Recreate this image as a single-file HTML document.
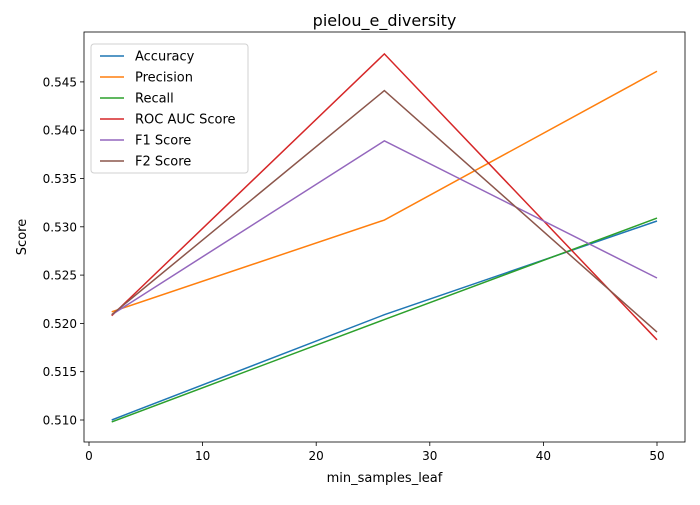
<!DOCTYPE html>
<html><head><meta charset="utf-8"><style>
body{margin:0;background:#fff;}
svg text{font-family:"DejaVu Sans","Liberation Sans",sans-serif;fill:#000;}
</style></head><body>
<svg id="chart" width="700" height="500" xmlns="http://www.w3.org/2000/svg">
<rect width="700" height="500" fill="#fff"/>
<text x="384.5" y="26" font-size="16" text-anchor="middle">pielou_e_diversity</text>
<g id="plot"></g>
</svg>
<script>
const xValues = [2, 26, 50];
const seriesNames = ["Accuracy","Precision","Recall","ROC AUC Score","F1 Score","F2 Score"];
const accuracy = [0.5100, 0.5209, 0.5306];
const precision = [0.5212, 0.5307, 0.5461];
const recall = [0.5098, 0.5204, 0.5309];
const rocAuc = [0.5208, 0.5479, 0.5183];
const f1 = [0.5209, 0.5389, 0.5247];
const f2 = [0.5209, 0.5441, 0.5191];
const xTicks = [0, 10, 20, 30, 40, 50];
const yTicks = [0.510, 0.515, 0.520, 0.525, 0.530, 0.535, 0.540, 0.545];

const colors = ["#1f77b4","#ff7f0e","#2ca02c","#d62728","#9467bd","#8c564b"];
const series = [accuracy, precision, recall, rocAuc, f1, f2];
const L=84,T=32,R=685,B=442;
const xs = v => 89 + v*11.36;
const ys = v => 420 - (v-0.510)*9660;
const NS="http://www.w3.org/2000/svg";
const g=document.getElementById('plot');
function mk(tag,attrs,parent){const e=document.createElementNS(NS,tag);for(const k in attrs)e.setAttribute(k,attrs[k]);(parent||g).appendChild(e);return e;}

xTicks.forEach(t=>{
  const x=xs(t);
  const tk=mk('line',{x1:x,x2:x,y1:B,y2:B+4,stroke:'#000','stroke-width':0.8});
  
  
  const tx=mk('text',{x:x,y:B+18,'font-size':12,'text-anchor':'middle'});
  tx.textContent=t;
  
  
});
yTicks.forEach(t=>{
  const y=ys(t);
  const tk=mk('line',{x1:L-4,x2:L,y1:y,y2:y,stroke:'#000','stroke-width':0.8});
  
  
  const tx=mk('text',{x:L-7,y:y+4.5,'font-size':12,'text-anchor':'end'});
  tx.textContent=t.toFixed(3);
  
  
});
series.forEach((s,i)=>{
  const pts=s.map((v,j)=>xs(xValues[j])+','+ys(v)).join(' ');
  const pl=mk('polyline',{points:pts,fill:'none',stroke:colors[i],'stroke-width':1.5});
  
  
});
const frame=mk('rect',{x:L,y:T,width:R-L,height:B-T,fill:'none',stroke:'#000','stroke-width':0.8});


const xl=mk('text',{x:(L+R)/2,y:482,'font-size':13,'text-anchor':'middle'});
xl.textContent='min_samples_leaf';


const yl=mk('text',{x:0,y:0,'font-size':13,'text-anchor':'middle',transform:'translate(26,237) rotate(-90)'});
yl.textContent='Score';


const lg=mk('g',{});


mk('rect',{x:91,y:44,width:157,height:129,rx:3,fill:'#fff',stroke:'#ccc','stroke-width':1,opacity:0.9},lg);
seriesNames.forEach((n,i)=>{
  const y=56+i*21;
  const eg=mk('g',{},lg);
  
  
  mk('line',{x1:100,x2:124,y1:y,y2:y,stroke:colors[i],'stroke-width':1.5},eg);
  const t=mk('text',{x:135,y:y+4.5,'font-size':13},eg);
  t.textContent=n;
});
</script>
</body></html>
